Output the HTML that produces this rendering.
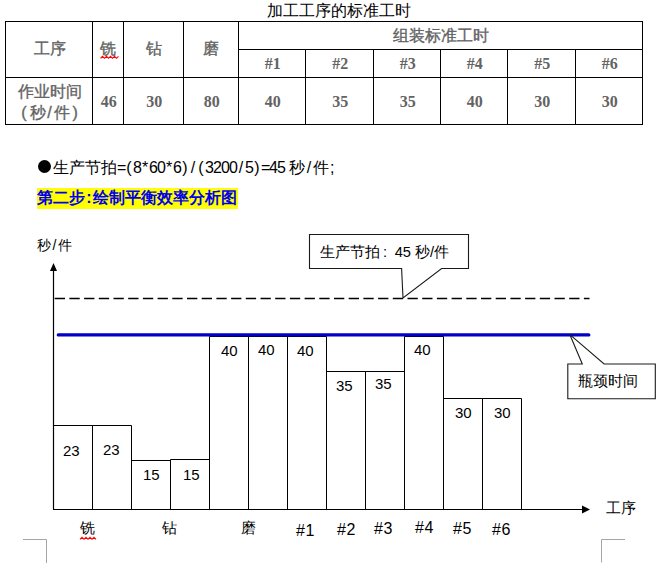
<!DOCTYPE html>
<html><head><meta charset="utf-8"><style>
html,body{margin:0;padding:0;background:#fff;}
body{width:656px;height:586px;position:relative;overflow:hidden;font-family:"Liberation Sans",sans-serif;}
.t{position:absolute;white-space:nowrap;line-height:1;text-spacing-trim:space-all;}
.h{display:inline-block;width:8px;text-align:center;}
svg{position:absolute;left:0;top:0;}
</style></head><body>
<svg width="656" height="586" viewBox="0 0 656 586">
<line x1="5.5" y1="21" x2="5.5" y2="124.5" stroke="#000" stroke-width="1" />
<line x1="92.5" y1="21" x2="92.5" y2="124.5" stroke="#000" stroke-width="1" />
<line x1="123.5" y1="21" x2="123.5" y2="124.5" stroke="#000" stroke-width="1" />
<line x1="183.5" y1="21" x2="183.5" y2="124.5" stroke="#000" stroke-width="1" />
<line x1="238.5" y1="21" x2="238.5" y2="124.5" stroke="#000" stroke-width="1" />
<line x1="305.5" y1="49" x2="305.5" y2="124.5" stroke="#000" stroke-width="1" />
<line x1="373.5" y1="49" x2="373.5" y2="124.5" stroke="#000" stroke-width="1" />
<line x1="440.5" y1="49" x2="440.5" y2="124.5" stroke="#000" stroke-width="1" />
<line x1="507.5" y1="49" x2="507.5" y2="124.5" stroke="#000" stroke-width="1" />
<line x1="575.5" y1="49" x2="575.5" y2="124.5" stroke="#000" stroke-width="1" />
<line x1="642.5" y1="21" x2="642.5" y2="124.5" stroke="#000" stroke-width="1" />
<line x1="5" y1="21.5" x2="643" y2="21.5" stroke="#000" stroke-width="1" />
<line x1="238" y1="49.5" x2="643" y2="49.5" stroke="#000" stroke-width="1" />
<line x1="5" y1="77.5" x2="643" y2="77.5" stroke="#000" stroke-width="1" />
<line x1="5" y1="124.5" x2="643" y2="124.5" stroke="#000" stroke-width="1" />
<rect x="37" y="188" width="201" height="21" fill="#ffff00"/>
<line x1="53.5" y1="270" x2="53.5" y2="509.5" stroke="#000" stroke-width="1.2" />
<polygon points="53.5,263 50,271 57,271" fill="#000"/>
<line x1="53" y1="509.5" x2="583" y2="509.5" stroke="#000" stroke-width="1.2" />
<polygon points="590,509.5 582,505.5 582,513.5" fill="#000"/>
<line x1="54.7" y1="298.4" x2="589.5" y2="298.4" stroke="#000" stroke-width="1.5" stroke-dasharray="10.3 4.4"/>
<path d="M53.5,509.5 V425.5 H92.5 V509.5" fill="none" stroke="#000" stroke-width="1"/>
<path d="M92.5,509.5 V425.5 H131.5 V509.5" fill="none" stroke="#000" stroke-width="1"/>
<path d="M131.5,509.5 V460.5 H170.5 V509.5" fill="none" stroke="#000" stroke-width="1"/>
<path d="M170.5,509.5 V459.5 H209.5 V509.5" fill="none" stroke="#000" stroke-width="1"/>
<path d="M209.5,509.5 V336.5 H248.5 V509.5" fill="none" stroke="#000" stroke-width="1"/>
<path d="M248.5,509.5 V336.5 H287.5 V509.5" fill="none" stroke="#000" stroke-width="1"/>
<path d="M287.5,509.5 V336.5 H326.5 V509.5" fill="none" stroke="#000" stroke-width="1"/>
<path d="M326.5,509.5 V371.5 H365.5 V509.5" fill="none" stroke="#000" stroke-width="1"/>
<path d="M365.5,509.5 V371.5 H404.5 V509.5" fill="none" stroke="#000" stroke-width="1"/>
<path d="M404.5,509.5 V336.5 H443.5 V509.5" fill="none" stroke="#000" stroke-width="1"/>
<path d="M443.5,509.5 V398.5 H482.5 V509.5" fill="none" stroke="#000" stroke-width="1"/>
<path d="M482.5,509.5 V398.5 H521.5 V509.5" fill="none" stroke="#000" stroke-width="1"/>
<line x1="58.3" y1="334.95" x2="588.8" y2="334.95" stroke="#0000c8" stroke-width="3.3" stroke-linecap="round"/>
<path d="M309.5,234.5 H468.5 V268.5 H441.6 L403,298 L401.6,268.5 H309.5 Z" fill="#fff" stroke="#1a1a1a" stroke-width="1.1"/>
<path d="M567.8,364 H582.3 L569.9,334.7 L604.1,364 H655.3 V398.8 H567.8 Z" fill="#fff" stroke="#1a1a1a" stroke-width="1.1"/>
<path d="M23,539.5 H46.5 V563" fill="none" stroke="#a6a6a6" stroke-width="1"/>
<path d="M601.5,562.5 V539.5 H625" fill="none" stroke="#a6a6a6" stroke-width="1"/>
<path d="M100.5,58.3 L102.5,56.3 L104.5,58.3 L106.5,56.3 L108.5,58.3 L110.5,56.3 L112.5,58.3 L114.5,56.3 L116.5,58.3 L118.5,56.3" fill="none" stroke="#ff0000" stroke-width="1.1"/>
<path d="M80,539.3 L82,537.3 L84,539.3 L86,537.3 L88,539.3 L90,537.3 L92,539.3 L94,537.3 L96,539.3" fill="none" stroke="#ff0000" stroke-width="1.1"/>
</svg>
<div class="t" style="left:246px;top:3px;font-size:16px;font-weight:normal;color:#000;font-family:'Liberation Sans', sans-serif;width:186px;text-align:center;">加工工序的标准工时</div>
<div class="t" style="left:6.3px;top:41px;font-size:16px;font-weight:normal;color:#636363;font-family:'Liberation Sans', sans-serif;width:87px;text-align:center;-webkit-text-stroke:0.35px #636363;">工序</div>
<div class="t" style="left:92.5px;top:41px;font-size:16px;font-weight:normal;color:#636363;font-family:'Liberation Sans', sans-serif;width:31px;text-align:center;-webkit-text-stroke:0.35px #636363;">铣</div>
<div class="t" style="left:123.5px;top:41px;font-size:16px;font-weight:normal;color:#636363;font-family:'Liberation Sans', sans-serif;width:60px;text-align:center;-webkit-text-stroke:0.35px #636363;">钻</div>
<div class="t" style="left:183.5px;top:41px;font-size:16px;font-weight:normal;color:#636363;font-family:'Liberation Sans', sans-serif;width:55px;text-align:center;-webkit-text-stroke:0.35px #636363;">磨</div>
<div class="t" style="left:238.5px;top:27.5px;font-size:16px;font-weight:normal;color:#636363;font-family:'Liberation Sans', sans-serif;width:404px;text-align:center;-webkit-text-stroke:0.35px #636363;">组装标准工时</div>
<div class="t" style="left:239.3px;top:55.7px;font-size:16px;font-weight:bold;color:#636363;font-family:'Liberation Serif', serif;width:67px;text-align:center;">#1</div>
<div class="t" style="left:306.3px;top:55.7px;font-size:16px;font-weight:bold;color:#636363;font-family:'Liberation Serif', serif;width:68px;text-align:center;">#2</div>
<div class="t" style="left:374.3px;top:55.7px;font-size:16px;font-weight:bold;color:#636363;font-family:'Liberation Serif', serif;width:67px;text-align:center;">#3</div>
<div class="t" style="left:441.3px;top:55.7px;font-size:16px;font-weight:bold;color:#636363;font-family:'Liberation Serif', serif;width:67px;text-align:center;">#4</div>
<div class="t" style="left:508.3px;top:55.7px;font-size:16px;font-weight:bold;color:#636363;font-family:'Liberation Serif', serif;width:68px;text-align:center;">#5</div>
<div class="t" style="left:576.3px;top:55.7px;font-size:16px;font-weight:bold;color:#636363;font-family:'Liberation Serif', serif;width:67px;text-align:center;">#6</div>
<div class="t" style="left:93.2px;top:94px;font-size:16px;font-weight:bold;color:#636363;font-family:'Liberation Serif', serif;width:31px;text-align:center;">46</div>
<div class="t" style="left:124.2px;top:94px;font-size:16px;font-weight:bold;color:#636363;font-family:'Liberation Serif', serif;width:60px;text-align:center;">30</div>
<div class="t" style="left:184.2px;top:94px;font-size:16px;font-weight:bold;color:#636363;font-family:'Liberation Serif', serif;width:55px;text-align:center;">80</div>
<div class="t" style="left:239.2px;top:94px;font-size:16px;font-weight:bold;color:#636363;font-family:'Liberation Serif', serif;width:67px;text-align:center;">40</div>
<div class="t" style="left:306.2px;top:94px;font-size:16px;font-weight:bold;color:#636363;font-family:'Liberation Serif', serif;width:68px;text-align:center;">35</div>
<div class="t" style="left:374.2px;top:94px;font-size:16px;font-weight:bold;color:#636363;font-family:'Liberation Serif', serif;width:67px;text-align:center;">35</div>
<div class="t" style="left:441.2px;top:94px;font-size:16px;font-weight:bold;color:#636363;font-family:'Liberation Serif', serif;width:67px;text-align:center;">40</div>
<div class="t" style="left:508.2px;top:94px;font-size:16px;font-weight:bold;color:#636363;font-family:'Liberation Serif', serif;width:68px;text-align:center;">30</div>
<div class="t" style="left:576.2px;top:94px;font-size:16px;font-weight:bold;color:#636363;font-family:'Liberation Serif', serif;width:67px;text-align:center;">30</div>
<div class="t" style="left:6px;top:80.5px;font-size:16px;font-weight:normal;color:#636363;font-family:'Liberation Sans', sans-serif;width:87px;text-align:center;line-height:21px;-webkit-text-stroke:0.35px #636363;">作业时间<br><span style="display:inline-block;width:12px;text-align:right;padding-right:3px">(</span>秒<span class="h">/</span>件<span style="display:inline-block;width:12px;text-align:left;padding-left:3px">)</span></div>
<div style="position:absolute;left:38px;top:160px;width:13px;height:13px;border-radius:50%;background:#000"></div>
<div class="t" style="left:53px;top:159.5px;font-size:16px;font-weight:normal;color:#000;font-family:'Liberation Sans', sans-serif;">生产节拍<span class="h">=</span><span class="h">(</span><span class="h">8</span><span class="h">*</span><span class="h">6</span><span class="h">0</span><span class="h">*</span><span class="h">6</span><span class="h">)</span><span class="h">/</span><span class="h">(</span><span class="h">3</span><span class="h">2</span><span class="h">0</span><span class="h">0</span><span class="h">/</span><span class="h">5</span><span class="h">)</span><span class="h">=</span><span class="h">4</span><span class="h">5</span><span style="display:inline-block;width:4px"></span>秒<span class="h">/</span>件<span style="display:inline-block;width:8px;padding-left:1px">;</span></div>
<div class="t" style="left:37px;top:190px;font-size:16px;font-weight:bold;color:#0000ee;font-family:'Liberation Sans', sans-serif;">第二步<span class="h">:</span>绘制平衡效率分析图</div>
<div class="t" style="left:37px;top:238.3px;font-size:14px;font-weight:normal;color:#000;font-family:'Liberation Sans', sans-serif;">秒<span style="margin:0 1.5px">/</span>件</div>
<div class="t" style="left:320px;top:245px;font-size:14.67px;font-weight:normal;color:#000;font-family:'Liberation Sans', sans-serif;">生产节拍<span style="display:inline-block;width:14.67px;padding-left:3px;box-sizing:border-box">:</span>45 秒/件</div>
<div class="t" style="left:578px;top:374px;font-size:14.67px;font-weight:normal;color:#000;font-family:'Liberation Sans', sans-serif;">瓶颈时间</div>
<div class="t" style="left:606px;top:500.8px;font-size:14.67px;font-weight:normal;color:#000;font-family:'Liberation Sans', sans-serif;">工序</div>
<div class="t" style="left:63px;top:443px;font-size:15px;font-weight:normal;color:#000;font-family:'Liberation Sans', sans-serif;">23</div>
<div class="t" style="left:103px;top:442px;font-size:15px;font-weight:normal;color:#000;font-family:'Liberation Sans', sans-serif;">23</div>
<div class="t" style="left:143px;top:467px;font-size:15px;font-weight:normal;color:#000;font-family:'Liberation Sans', sans-serif;">15</div>
<div class="t" style="left:183px;top:467px;font-size:15px;font-weight:normal;color:#000;font-family:'Liberation Sans', sans-serif;">15</div>
<div class="t" style="left:221px;top:343px;font-size:15px;font-weight:normal;color:#000;font-family:'Liberation Sans', sans-serif;">40</div>
<div class="t" style="left:258px;top:342px;font-size:15px;font-weight:normal;color:#000;font-family:'Liberation Sans', sans-serif;">40</div>
<div class="t" style="left:297px;top:343px;font-size:15px;font-weight:normal;color:#000;font-family:'Liberation Sans', sans-serif;">40</div>
<div class="t" style="left:336px;top:378px;font-size:15px;font-weight:normal;color:#000;font-family:'Liberation Sans', sans-serif;">35</div>
<div class="t" style="left:375px;top:376px;font-size:15px;font-weight:normal;color:#000;font-family:'Liberation Sans', sans-serif;">35</div>
<div class="t" style="left:414px;top:342px;font-size:15px;font-weight:normal;color:#000;font-family:'Liberation Sans', sans-serif;">40</div>
<div class="t" style="left:455px;top:405px;font-size:15px;font-weight:normal;color:#000;font-family:'Liberation Sans', sans-serif;">30</div>
<div class="t" style="left:494px;top:405px;font-size:15px;font-weight:normal;color:#000;font-family:'Liberation Sans', sans-serif;">30</div>
<div class="t" style="left:80px;top:520.7px;font-size:14.67px;font-weight:normal;color:#000;font-family:'Liberation Sans', sans-serif;">铣</div>
<div class="t" style="left:162px;top:520.7px;font-size:14.67px;font-weight:normal;color:#000;font-family:'Liberation Sans', sans-serif;">钻</div>
<div class="t" style="left:241px;top:520.7px;font-size:14.67px;font-weight:normal;color:#000;font-family:'Liberation Sans', sans-serif;">磨</div>
<div class="t" style="left:296px;top:523.2px;font-size:16px;font-weight:normal;color:#000;font-family:'Liberation Sans', sans-serif;letter-spacing:0.6px;">#1</div>
<div class="t" style="left:337px;top:522.2px;font-size:16px;font-weight:normal;color:#000;font-family:'Liberation Sans', sans-serif;letter-spacing:0.6px;">#2</div>
<div class="t" style="left:374px;top:521.2px;font-size:16px;font-weight:normal;color:#000;font-family:'Liberation Sans', sans-serif;letter-spacing:0.6px;">#3</div>
<div class="t" style="left:415px;top:520.2px;font-size:16px;font-weight:normal;color:#000;font-family:'Liberation Sans', sans-serif;letter-spacing:0.6px;">#4</div>
<div class="t" style="left:453px;top:521.2px;font-size:16px;font-weight:normal;color:#000;font-family:'Liberation Sans', sans-serif;letter-spacing:0.6px;">#5</div>
<div class="t" style="left:492px;top:522.2px;font-size:16px;font-weight:normal;color:#000;font-family:'Liberation Sans', sans-serif;letter-spacing:0.6px;">#6</div>
</body></html>
